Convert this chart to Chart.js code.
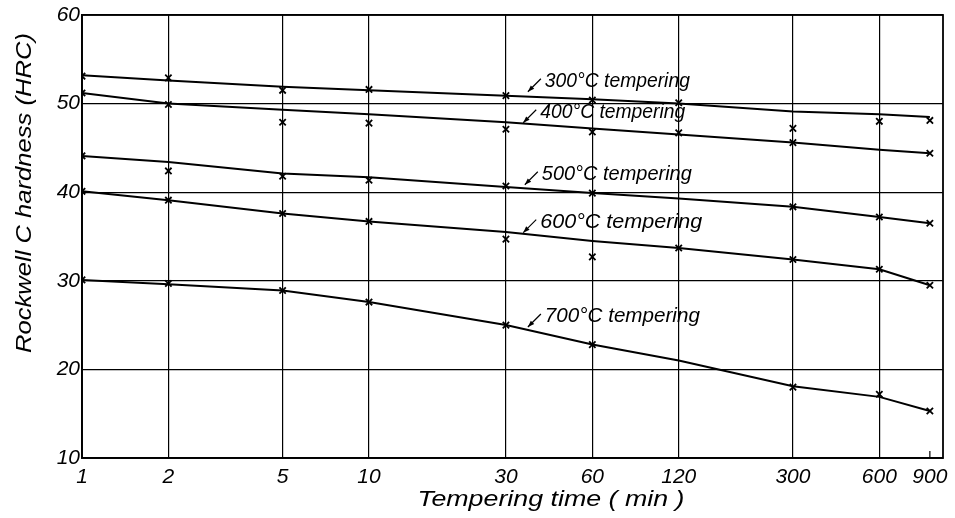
<!DOCTYPE html>
<html>
<head>
<meta charset="utf-8">
<script src="https://cdn.jsdelivr.net/npm/chart.js@4/dist/chart.umd.min.js"></script>
<style>
  html, body { margin: 0; padding: 0; background: #fff; }
  #wrap { width: 955px; height: 518px; }
</style>
</head>
<body>
<div id="wrap"><canvas id="chart"></canvas></div>
<script>
// Tempering time (min) and tick labels on the log axis
const times = [1, 2, 5, 10, 30, 60, 120, 300, 600, 900];
const xTicks = [1, 2, 5, 10, 30, 60, 120, 300, 600, 900];
const yTicks = [10, 20, 30, 40, 50, 60];

// measured points (x marks), null = no mark seen
const mark300 = [53.1, 52.9, 51.5, 51.6, 50.9, 50.4, 50.1, 47.2, 48.0, 48.1];
const mark400 = [51.2, 49.9, 47.9, 47.8, 47.1, 46.8, 46.7, 45.6, null, 44.4];
const mark500 = [44.1, 42.4, 41.8, 41.35, 40.7, 39.9, null, 38.35, 37.2, 36.5];
const mark600 = [40.1, 39.1, 37.6, 36.7, 34.7, 32.7, 33.7, 32.4, 31.3, 29.5];
const mark700 = [30.1, 29.7, 28.9, 27.6, 25.0, 22.8, null, 18.0, 17.2, 15.3];

// drawn curves, read where they cross each time line
const line300 = [53.2, 52.6, 51.9, 51.5, 50.9, 50.5, 50.0, 49.1, 48.8, 48.5];
const line400 = [51.2, 50.0, 49.3, 48.8, 47.9, 47.2, 46.5, 45.6, 44.8, 44.4];
const line500 = [44.1, 43.4, 42.1, 41.7, 40.6, 39.9, 39.3, 38.35, 37.2, 36.5];
const line600 = [40.1, 39.1, 37.6, 36.7, 35.5, 34.5, 33.7, 32.4, 31.3, 29.5];
const line700 = [30.1, 29.6, 28.9, 27.6, 25.0, 22.8, 21.0, 18.1, 16.9, 15.3];

const seriesNames = ['300°C tempering', '400°C tempering', '500°C tempering', '600°C tempering', '700°C tempering'];

// label anchors in data units (left edge of text, baseline)
const labelX = [41, 39.5, 40, 39.5, 41];
const labelY = [51.9, 48.4, 41.4, 36.0, 25.35];
const labelW = [145, 145, 150, 162, 155];

const FONT = '"Liberation Sans", "DejaVu Sans", sans-serif';

function pts(arr) {
  return times.map((t, i) => ({ x: t, y: arr[i] })).filter(p => p.y !== null);
}

function fitText(ctx, txt, x, y, w) {
  const m = ctx.measureText(txt).width;
  ctx.save();
  ctx.translate(x, y);
  ctx.scale(w / m, 1);
  ctx.fillText(txt, 0, 0);
  ctx.restore();
}

const lines = [line300, line400, line500, line600, line700];
const marks = [mark300, mark400, mark500, mark600, mark700];

const datasets = [];
lines.forEach((l, i) => {
  datasets.push({
    label: seriesNames[i],
    data: pts(l),
    showLine: true,
    borderColor: '#000',
    borderWidth: 2,
    pointRadius: 0,
    tension: 0
  });
});
marks.forEach((m, i) => {
  datasets.push({
    label: seriesNames[i] + ' data',
    data: pts(m),
    showLine: false,
    pointStyle: 'crossRot',
    pointRadius: 4.5,
    borderColor: '#000',
    borderWidth: 1.8
  });
});

const decor = {
  id: 'decor',
  afterDraw(chart) {
    const ctx = chart.ctx;
    const a = chart.chartArea;
    const xs = chart.scales.x, ys = chart.scales.y;
    ctx.save();
    ctx.strokeStyle = '#000';
    ctx.fillStyle = '#000';

    // frame
    ctx.lineWidth = 1.8;
    ctx.strokeRect(a.left, a.top, a.right - a.left, a.bottom - a.top);

    // short tick at 900
    const p900 = xs.getPixelForValue(900);
    ctx.lineWidth = 1.2;
    ctx.beginPath();
    ctx.moveTo(p900, a.bottom);
    ctx.lineTo(p900, a.bottom - 7);
    ctx.stroke();

    // curve labels with arrows
    ctx.font = 'italic 21px ' + FONT;
    ctx.textAlign = 'left';
    ctx.textBaseline = 'alphabetic';
    seriesNames.forEach((name, i) => {
      const x = xs.getPixelForValue(labelX[i]);
      const y = ys.getPixelForValue(labelY[i]);
      fitText(ctx, name, x, y, labelW[i]);
      const tx = x - 4, ty = y - 8, hx = x - 17, hy = y + 5;
      ctx.lineWidth = 1.2;
      ctx.beginPath();
      ctx.moveTo(tx, ty);
      ctx.lineTo(hx, hy);
      ctx.stroke();
      const ang = Math.atan2(hy - ty, hx - tx);
      ctx.beginPath();
      ctx.moveTo(hx, hy);
      ctx.lineTo(hx - 7 * Math.cos(ang - 0.35), hy - 7 * Math.sin(ang - 0.35));
      ctx.lineTo(hx - 7 * Math.cos(ang + 0.35), hy - 7 * Math.sin(ang + 0.35));
      ctx.closePath();
      ctx.fill();
    });

    // axis titles
    ctx.font = 'italic 22px ' + FONT;
    ctx.textAlign = 'center';
    ctx.textBaseline = 'middle';
    fitText(ctx, 'Tempering time ( min )', 551, 500, 267);
    ctx.save();
    ctx.translate(25, 193);
    ctx.rotate(-Math.PI / 2);
    fitText(ctx, 'Rockwell C hardness (HRC)', 0, 0, 320);
    ctx.restore();

    ctx.restore();
  }
};

document.addEventListener('DOMContentLoaded', function () {
  const ctx = document.getElementById('chart').getContext('2d');
  new Chart(ctx, {
    type: 'scatter',
    data: { datasets: datasets },
    options: {
      responsive: true,
      maintainAspectRatio: false,
      animation: false,
      layout: { padding: { top: 15, right: 12, left: 0, bottom: 0 } },
      plugins: {
        legend: { display: false },
        tooltip: { enabled: false }
      },
      scales: {
        x: {
          type: 'logarithmic',
          min: 1,
          max: 1000,
          afterBuildTicks: function (scale) {
            scale.ticks = xTicks.map(v => ({ value: v }));
          },
          afterFit: function (scale) { scale.height = 60; },
          ticks: {
            autoSkip: false,
            maxRotation: 0,
            padding: 7,
            color: '#000',
            font: { family: FONT, size: 21, style: 'italic' },
            callback: function (v) { return String(v); }
          },
          grid: {
            drawTicks: false,
            lineWidth: 1.2,
            color: function (c) { return c.tick && c.tick.value === 900 ? 'rgba(0,0,0,0)' : '#000'; }
          },
          border: { color: '#000', width: 1.8 }
        },
        y: {
          min: 10,
          max: 60,
          afterBuildTicks: function (scale) {
            scale.ticks = yTicks.map(v => ({ value: v }));
          },
          afterFit: function (scale) { scale.width = 82; },
          ticks: {
            padding: 2,
            color: '#000',
            font: { family: FONT, size: 21, style: 'italic' }
          },
          grid: { drawTicks: false, lineWidth: 1.2, color: '#000' },
          border: { color: '#000', width: 1.8 }
        }
      }
    },
    plugins: [decor]
  });
});
</script>
</body>
</html>
